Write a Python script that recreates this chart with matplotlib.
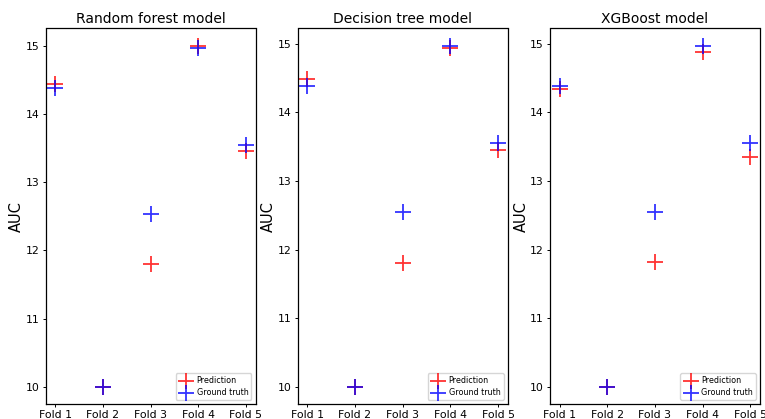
import matplotlib
matplotlib.use("Agg")
import matplotlib.pyplot as plt

folds = ["Fold 1", "Fold 2", "Fold 3", "Fold 4", "Fold 5"]
titles = ["Random forest model", "Decision tree model", "XGBoost model"]
ground_truth = [14.38, 10.0, 12.54, 14.97, 13.55]
pred_rf = [14.44, 10.0, 11.80, 15.00, 13.46]
pred_dt = [14.48, 10.0, 11.80, 14.94, 13.45]
pred_xgb = [14.34, 10.0, 11.82, 14.88, 13.35]
predictions = [pred_rf, pred_dt, pred_xgb]

W, H = 765, 419
fig = plt.figure(figsize=(W / 100, H / 100), dpi=100)
lefts = [45.5, 297.7, 550.0]
aw = 210.0
bottom = 404.0
top = 28.5
for i in range(3):
    ax = fig.add_axes([lefts[i] / W, 1 - bottom / H, aw / W, (bottom - top) / H])
    ax.scatter(folds, predictions[i], marker="+", s=120, color="red", alpha=0.8,
               linewidths=1.3, label="Prediction")
    ax.scatter(folds, ground_truth, marker="+", s=120, color="blue", alpha=0.8,
               linewidths=1.3, label="Ground truth")
    ax.set_title(titles[i], fontsize=10, pad=4)
    ax.set_ylabel("AUC", fontsize=10.5, labelpad=1)
    ax.tick_params(labelsize=7.8, length=2.5, width=0.7, pad=2)
    for s in ax.spines.values():
        s.set_linewidth(0.9)
    ax.set_yticks([10, 11, 12, 13, 14, 15])
    ax.legend(loc="lower right", fontsize=5.8, handletextpad=0.4, borderpad=0.4,
              labelspacing=0.3, handlelength=1.8)

fig.savefig("out.png", dpi=100)
